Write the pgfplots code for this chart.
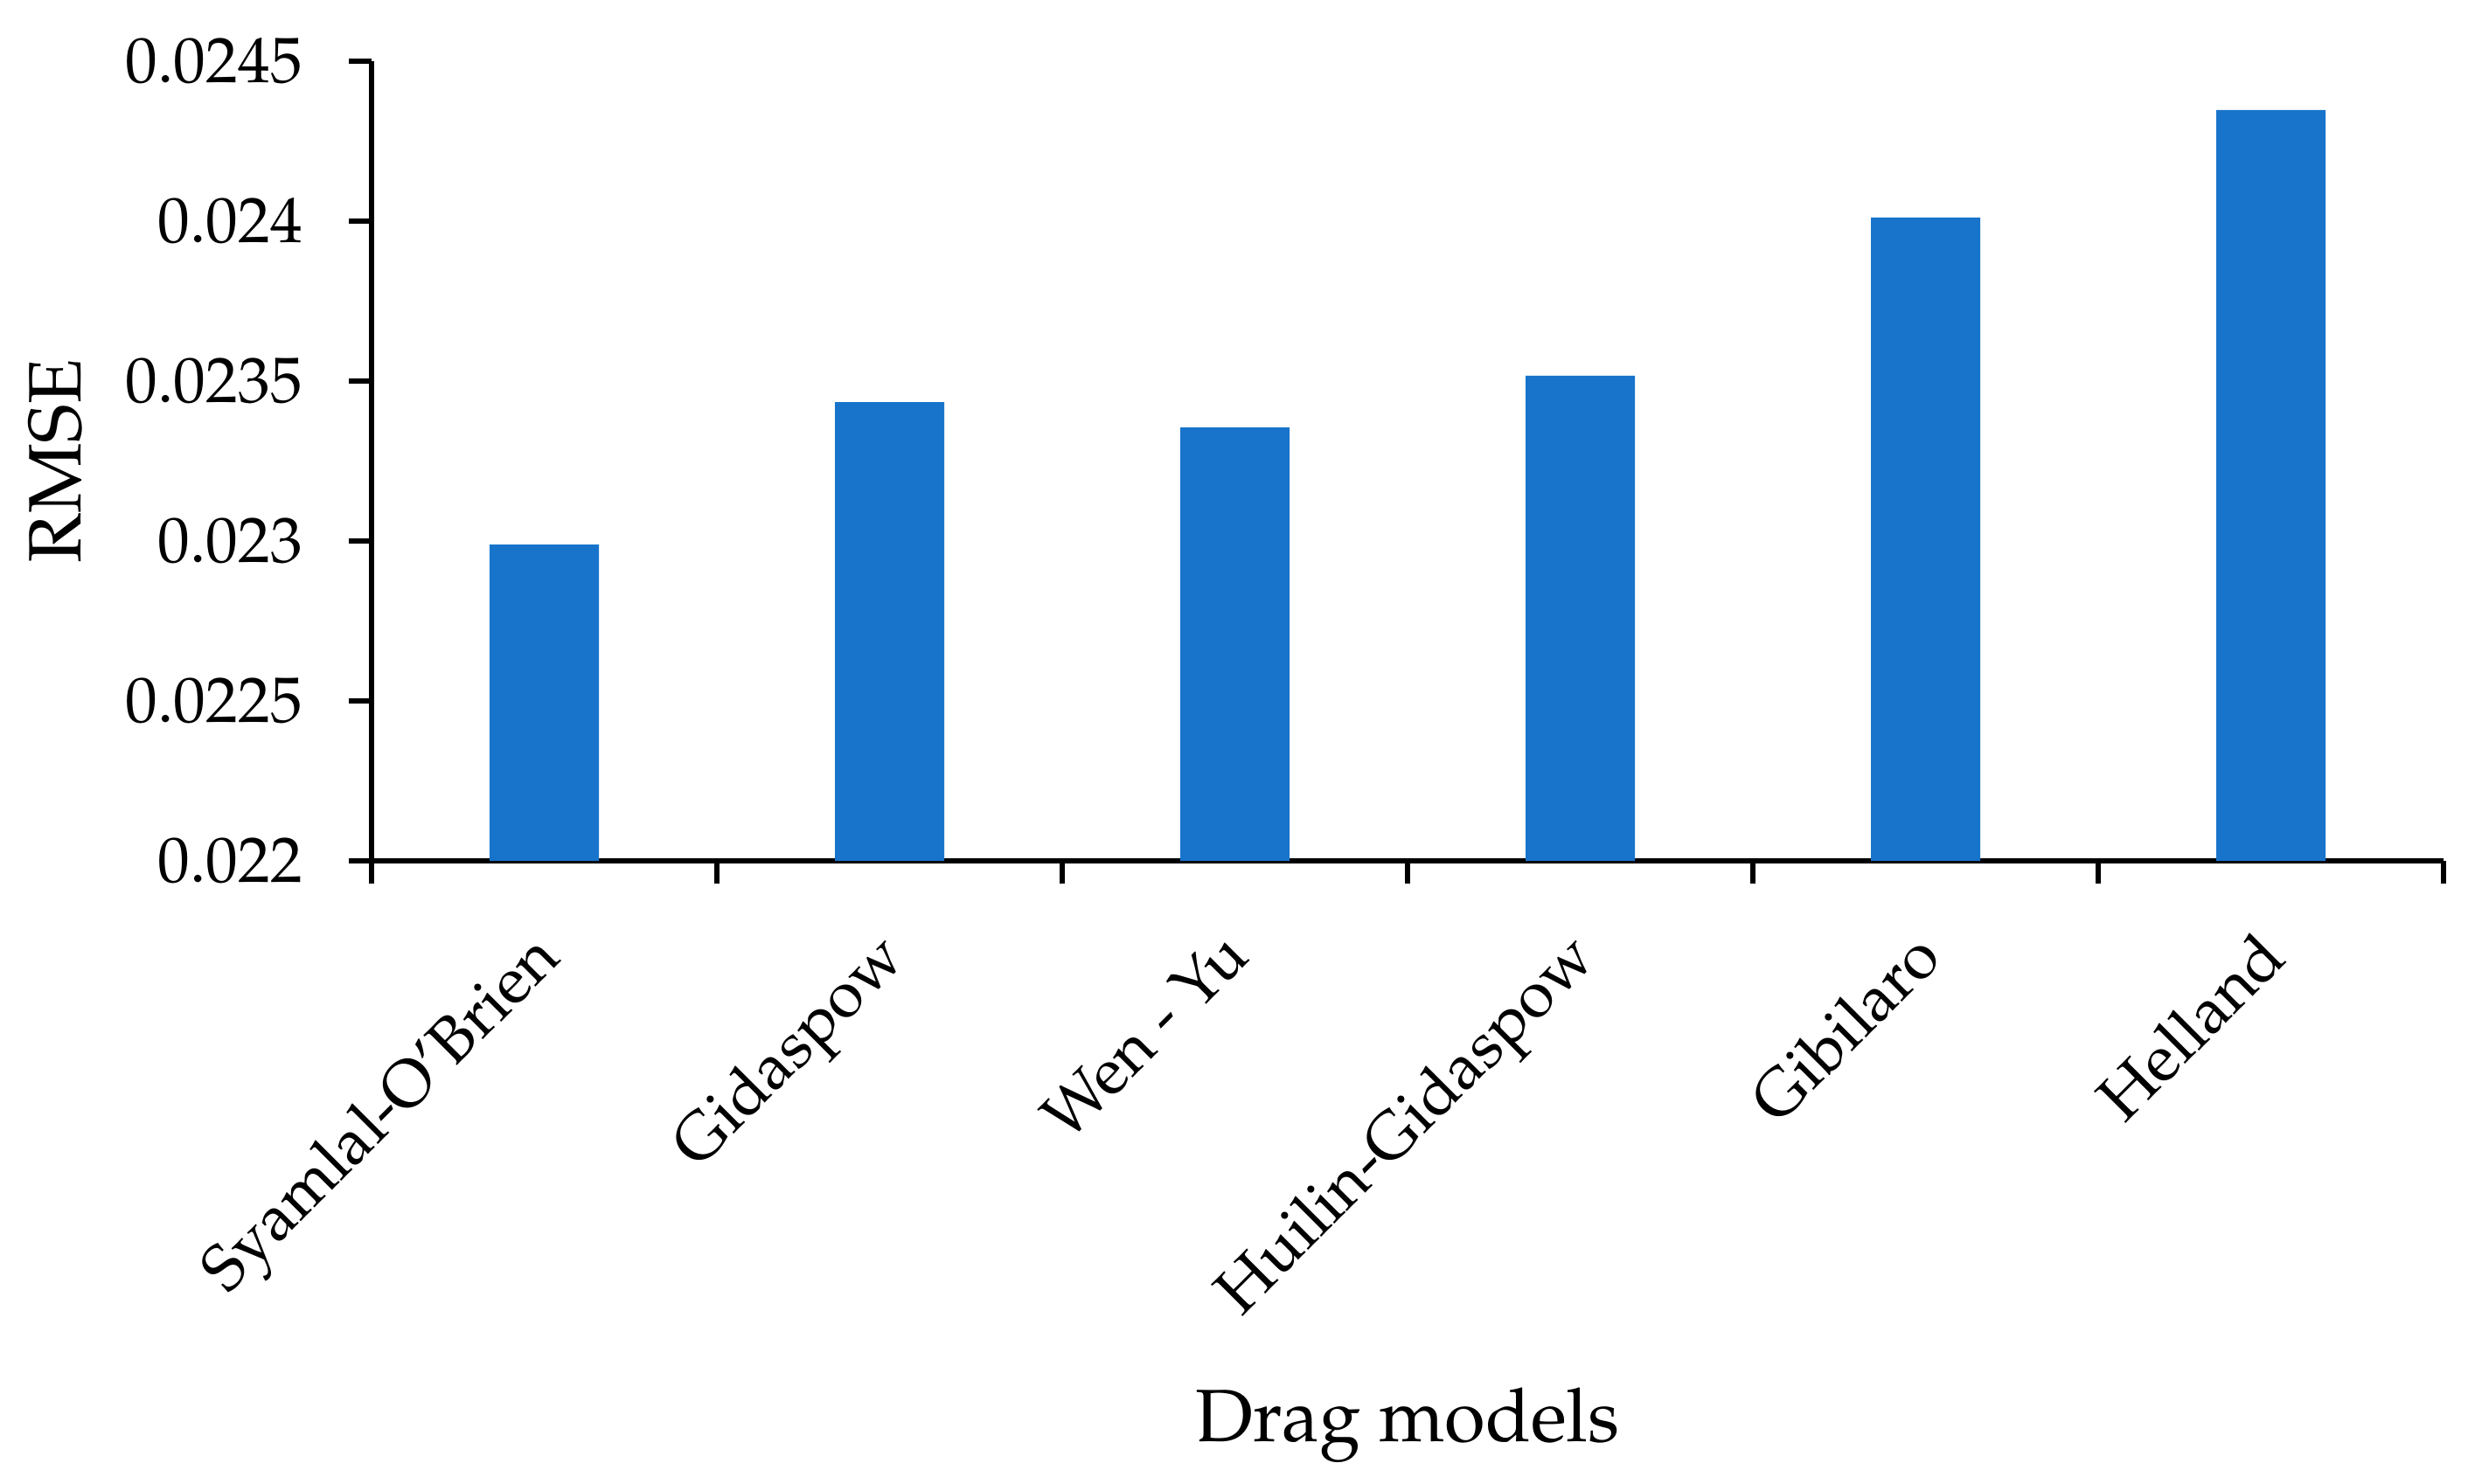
\documentclass[border=0pt]{standalone}
\usepackage[T1]{fontenc}
\usepackage{mathpazo}
\usepackage{pgfplots}
\pgfplotsset{compat=1.18}
\definecolor{barblue}{RGB}{24,116,203}
\begin{document}
\begin{tikzpicture}
\begin{axis}[
 scale only axis, width=474pt, height=183pt,
 xmin=-0.5, xmax=5.5, ymin=0.022, ymax=0.0245,
 axis lines=left, axis line style={-, line width=1.3pt},
 tick align=outside, major tick length=5.2pt,
 tick style={line width=1.3pt, black},
 scaled y ticks=false,
 xtick={-0.5,0.5,1.5,2.5,3.5,4.5,5.5}, xticklabels={},
 extra x ticks={0,1,2,3,4,5},
 extra x tick labels={Syamlal-O'Brien, Gidaspow, Wen - Yu, Huilin-Gidaspow, Gibilaro, Helland},
 extra x tick style={tick style={draw=none}},
 xticklabel style={font=\fontsize{14.8}{17}\selectfont, xshift=-3.5pt, yshift=-9.8pt, rotate=45, anchor=north east, inner sep=0pt},
 ytick={0.022,0.0225,0.023,0.0235,0.024,0.0245},
 yticklabels={0.022,0.0225,0.023,0.0235,0.024,0.0245},
 yticklabel style={font=\fontsize{14.7}{17}\selectfont, inner sep=0pt, anchor=east, xshift=-10.4pt},
 ylabel={RMSE}, xlabel={Drag models},
 label style={font=\fontsize{17}{20}\selectfont},
 xlabel style={at={(axis description cs:0.5,0)}, anchor=base, yshift=-132.8pt},
 ylabel style={at={(axis description cs:-0.1401,0.5)}, anchor=base},
 ybar, bar width=25pt,
 clip=true,
]
\addplot[fill=barblue, draw=none] coordinates {
 (0,0.022989) (1,0.023434) (2,0.023355) (3,0.023517) (4,0.024011) (5,0.024347)
};
\end{axis}
\pgfresetboundingbox
\path ([shift={(-85pt,-142.4pt)}]current axis.south west) rectangle ([shift={(7.2pt,14pt)}]current axis.north east);
\end{tikzpicture}
\end{document}
